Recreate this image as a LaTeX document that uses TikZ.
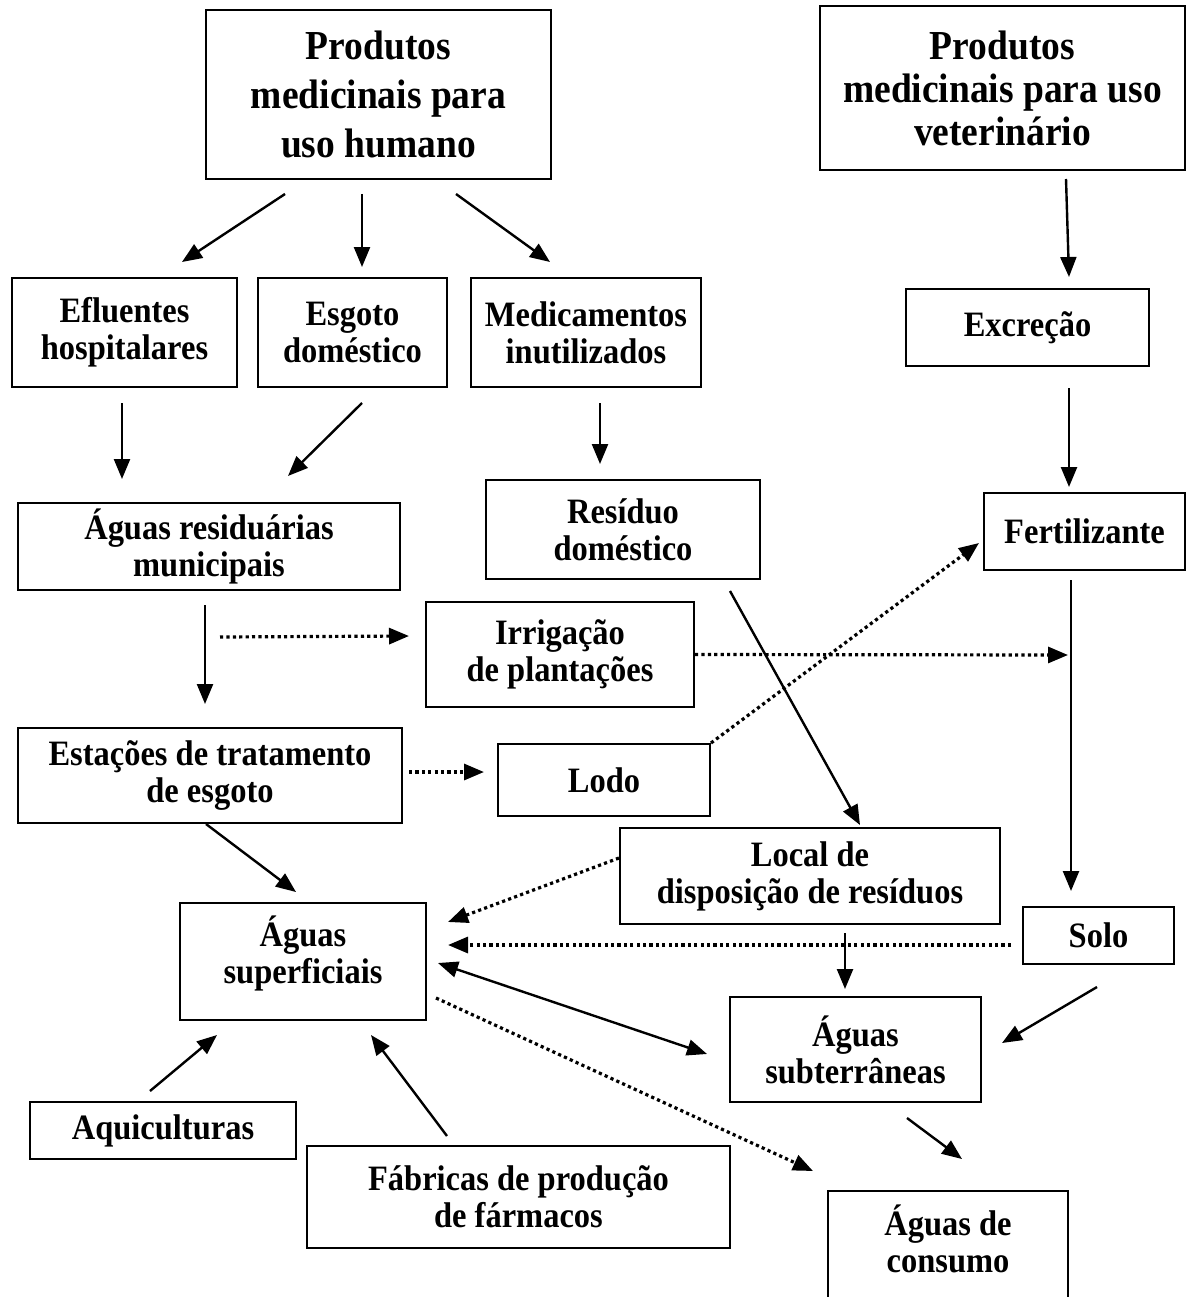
\documentclass[tikz,border=0pt]{standalone}
\usepackage{fontspec}
\setmainfont{Liberation Serif}[FakeStretch=0.91]
\usetikzlibrary{calc,arrows.meta}

\tikzstyle{block} = [draw, line width=2pt, rectangle, align=center,
    inner sep=0pt, font=\bfseries\fontsize{35.7}{37}\selectfont]
\tikzstyle{headblock} = [block, font=\bfseries\fontsize{41.2}{49}\selectfont]
\tikzstyle{flow} = [line width=2.4pt, -{Triangle[length=20pt,width=16pt]}]
\tikzstyle{dotflow} = [line width=3.2pt, dash pattern=on 3.2pt off 3.2pt,
    -{Triangle[length=20pt,width=16pt]}]
\tikzstyle{twoway} = [line width=2.4pt,
    {Triangle[length=20pt,width=16pt]}-{Triangle[length=20pt,width=16pt]}]

\begin{document}
\begin{tikzpicture}[x=1pt, y=-1pt]
    \useasboundingbox (0,0) rectangle (1197,1297);
    \node [headblock, minimum width=345pt, minimum height=169pt] (humano) at (378.5,94.5) {Produtos\\medicinais para\\uso humano};
    \node [headblock, minimum width=365pt, minimum height=164pt, font=\bfseries\fontsize{41.2}{43}\selectfont] (veterinario) at (1002.5,88) {Produtos\\medicinais para uso\\veterinário};
    \node [block, minimum width=225pt, minimum height=109pt] (efluentes) at (124.5,332.5) {Efluentes\\hospitalares};
    \node [block, minimum width=189pt, minimum height=109pt] (esgoto) at (352.5,332.5) {Esgoto\\doméstico};
    \node [block, minimum width=230pt, minimum height=109pt] (medicamentos) at (586,332.5) {Medicamentos\\inutilizados};
    \node [block, minimum width=243pt, minimum height=77pt] (excrecao) at (1027.5,327.5) {Excreção};
    \node [block, minimum width=382pt, minimum height=87pt] (residuarias) at (209,546.5) {Águas residuárias\\municipais};
    \node [block, minimum width=274pt, minimum height=99pt] (residuo) at (623,529.5) {Resíduo\\doméstico};
    \node [block, minimum width=201pt, minimum height=77pt] (fertilizante) at (1084.5,531.5) {Fertilizante};
    \node [block, minimum width=268pt, minimum height=105pt] (irrigacao) at (560,654.5) {Irrigação\\de plantações};
    \node [block, minimum width=384pt, minimum height=95pt] (estacoes) at (210,775.5) {Estações de tratamento\\de esgoto};
    \node [block, minimum width=212pt, minimum height=72pt] (lodo) at (604,780) {Lodo};
    \node [block, minimum width=380pt, minimum height=96pt] (local) at (810,876) {Local de\\disposição de resíduos};
    \node [block, minimum width=151pt, minimum height=57pt] (solo) at (1098.5,935.5) {Solo};
    \node [block, minimum width=246pt, minimum height=117pt, text depth=24pt] (superficiais) at (303,961.5) {Águas\\superficiais};
    \node [block, minimum width=251pt, minimum height=105pt] (subterraneas) at (855.5,1049.5) {Águas\\subterrâneas};
    \node [block, minimum width=266pt, minimum height=57pt] (aquicultura) at (163,1130.5) {Aquiculturas};
    \node [block, minimum width=423pt, minimum height=102pt] (fabricas) at (518.5,1197) {Fábricas de produção\\de fármacos};
    \node [block, minimum width=240pt, minimum height=129pt, text depth=33pt] (consumo) at (948,1255.5) {Águas de\\consumo};
    \draw [flow] ($(humano.south)+(-93.5,14)$) -- ($(efluentes.north)+(57.5,-15)$);
    \draw [flow] ($(humano.south)+(-16.5,14)$) -- ($(esgoto.north)+(9.5,-10)$);
    \draw [flow] ($(humano.south)+(77.5,14)$) -- ($(medicamentos.north)+(-36,-15)$);
    \draw [flow] ($(veterinario.south)+(63.5,8)$) -- ($(excrecao.north)+(41.5,-11)$);
    \draw [flow] ($(efluentes.south)+(-2.5,15)$) -- ($(residuarias.north)+(-87,-23)$);
    \draw [flow] ($(esgoto.south)+(9.5,15)$) -- ($(residuarias.north)+(79,-26)$);
    \draw [flow] ($(medicamentos.south)+(14,15)$) -- ($(residuo.north)+(-23,-15)$);
    \draw [flow] ($(excrecao.south)+(41.5,21)$) -- ($(fertilizante.north)+(-15.5,-5)$);
    \draw [flow] ($(residuarias.south)+(-4,14)$) -- ($(estacoes.north)+(-5,-23)$);
    \draw [dotflow] ($(residuarias.south)+(11,46)$) -- ($(irrigacao.west)+(-16,-18.5)$);
    \draw [dotflow] (irrigacao.east) -- ($(fertilizante.south)+(-16.5,84)$);
    \draw [flow] ($(fertilizante.south)+(-13.5,9)$) -- ($(solo.north)+(-27.5,-15)$);
    \draw [dotflow] ($(estacoes.east)+(6,-3.5)$) -- ($(lodo.west)+(-13,-8)$);
    \draw [dotflow] (lodo.north east) -- ($(fertilizante.west)+(-4,11.5)$);
    \draw [flow] ($(residuo.south)+(107,11)$) -- ($(local.north)+(50,-2)$);
    \draw [flow] ($(estacoes.south)+(-4,0)$) -- ($(superficiais.north)+(-7,-10)$);
    \draw [dotflow] ($(local.west)+(0,-18)$) -- ($(superficiais.east)+(21,-39.5)$);
    \draw [dotflow] ($(solo.west)+(-11,9.5)$) -- ($(superficiais.east)+(21,-16.5)$);
    \draw [flow] ($(local.south)+(35,8)$) -- ($(subterraneas.north)+(-10.5,-7)$);
    \draw [flow] ($(solo.south)+(-1.5,22)$) -- ($(subterraneas.east)+(20,-6.5)$);
    \draw [twoway] ($(superficiais.east)+(11,1.5)$) -- ($(subterraneas.west)+(-22,4.5)$);
    \draw [dotflow] ($(superficiais.east)+(9,36.5)$) -- ($(consumo.north)+(-135,-19)$);
    \draw [flow] ($(subterraneas.south)+(51.5,15)$) -- ($(consumo.north)+(14,-31)$);
    \draw [flow] ($(aquicultura.north)+(-13,-10)$) -- ($(superficiais.south)+(-86,14)$);
    \draw [flow] ($(fabricas.north)+(-71.5,-9)$) -- ($(superficiais.south)+(68,14)$);
\end{tikzpicture}
\end{document}
